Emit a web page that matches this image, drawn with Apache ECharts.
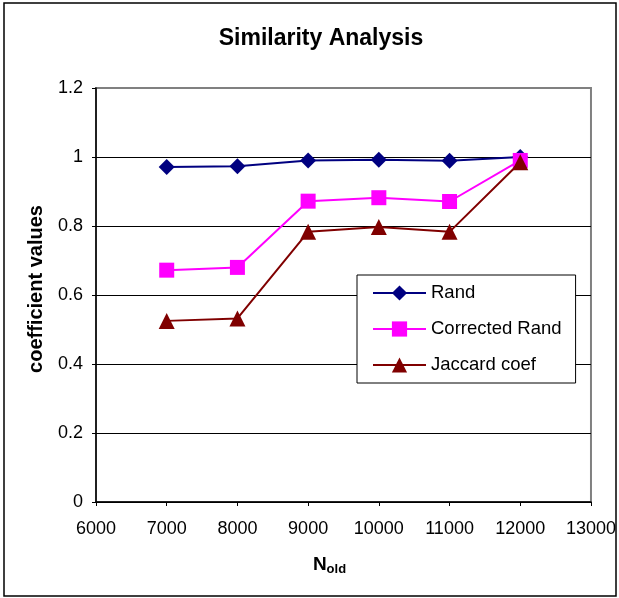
<!DOCTYPE html>
<html>
<head>
<meta charset="utf-8">
<script src="https://cdn.jsdelivr.net/npm/echarts@6/dist/echarts.min.js"></script>
<style>
  html, body { margin: 0; padding: 0; background: #fff; }
  #chart { width: 619px; height: 598px; }
</style>
</head>
<body>
<div id="chart"></div>
<script>
const nOld = [7000, 8000, 9000, 10000, 11000, 12000]
const rand = [0.971, 0.973, 0.99, 0.992, 0.989, 1.0]
const correctedRand = [0.672, 0.68, 0.872, 0.882, 0.871, 0.99]
const jaccard = [0.525, 0.532, 0.783, 0.797, 0.783, 0.985]
const yTicks = [0, 0.2, 0.4, 0.6, 0.8, 1, 1.2]

const pairs = (vals) => nOld.map((x, i) => [x, vals[i]])

const chart = echarts.init(document.getElementById('chart'))

const font = 'Arial, "Liberation Sans", sans-serif'

const option = {
  backgroundColor: '#fff',
  animation: false,
  textStyle: { fontFamily: font },
  title: {
    text: 'Similarity Analysis',
    left: 316,
    top: 22,
    textAlign: 'center',
    textStyle: { fontSize: 23, fontWeight: 'bold', color: '#000', fontFamily: font }
  },
  graphic: [
    {
      type: 'rect',
      shape: { x: 4, y: 3, width: 612, height: 593 },
      style: { fill: 'none', stroke: '#000', lineWidth: 1.5 },
      silent: true
    }
  ],
  grid: {
    left: 96,
    right: 27,
    top: 88,
    bottom: 96,
    show: true,
    borderColor: '#808080',
    borderWidth: 2,
    backgroundColor: '#fff'
  },
  legend: {
    orient: 'vertical',
    left: 357,
    top: 275,
    padding: [8, 14, 8, 15],
    itemWidth: 53,
    itemHeight: 19,
    itemGap: 16,
    borderColor: '#000',
    borderWidth: 1,
    backgroundColor: '#fff',
    textStyle: { fontSize: 18.5, color: '#000', fontFamily: font, lineHeight: 20 },
    data: ['Rand', 'Corrected Rand', 'Jaccard coef']
  },
  xAxis: {
    type: 'value',
    min: 6000,
    max: 13000,
    interval: 1000,
    name: '{n|N}{s|old}',
    nameLocation: 'middle',
    nameGap: 51,
    nameTextStyle: {
      padding: [0, 28, 0, 0],
      rich: {
        n: { fontSize: 19, fontWeight: 'bold', color: '#000', fontFamily: font },
        s: { fontSize: 13, fontWeight: 'bold', color: '#000', fontFamily: font, padding: [10, 0, 0, 0] }
      }
    },
    axisLine: { show: true, lineStyle: { color: '#000', width: 1.5 } },
    axisTick: { show: true, length: 4, lineStyle: { color: '#000' } },
    axisLabel: { fontSize: 18, color: '#000', margin: 18, fontFamily: font, formatter: (v) => String(v) },
    splitLine: { show: false }
  },
  yAxis: {
    type: 'value',
    min: 0,
    max: 1.2,
    interval: 0.2,
    name: 'coefficient values',
    nameLocation: 'middle',
    nameGap: 50,
    nameTextStyle: { fontSize: 20, fontWeight: 'bold', color: '#000', fontFamily: font, padding: [0, 0, 0, 12] },
    axisLine: { show: true, lineStyle: { color: '#000', width: 1.5 } },
    axisTick: { show: true, length: 4, lineStyle: { color: '#000' } },
    axisLabel: {
      fontSize: 18,
      color: '#000',
      margin: 13,
      fontFamily: font,
      formatter: (v) => {
        const t = yTicks.find((k) => Math.abs(k - v) < 1e-9)
        return t === undefined ? '' : String(t)
      }
    },
    splitLine: {
      show: true,
      lineStyle: { color: ['#000', '#000', '#000', '#000', '#000', '#000', '#808080'], width: 1 }
    }
  },
  series: [
    {
      name: 'Rand',
      type: 'line',
      data: pairs(rand),
      symbol: 'diamond',
      symbolSize: 16,
      itemStyle: { color: '#000080' },
      lineStyle: { color: '#000080', width: 2 },
      z: 4
    },
    {
      name: 'Corrected Rand',
      type: 'line',
      data: pairs(correctedRand),
      symbol: 'rect',
      symbolSize: 15,
      itemStyle: { color: '#FF00FF' },
      lineStyle: { color: '#FF00FF', width: 2 },
      z: 5
    },
    {
      name: 'Jaccard coef',
      type: 'line',
      data: pairs(jaccard),
      symbol: 'triangle',
      symbolSize: 16,
      itemStyle: { color: '#800000' },
      lineStyle: { color: '#800000', width: 2 },
      z: 6
    }
  ]
}

chart.setOption(option)
</script>
</body>
</html>
